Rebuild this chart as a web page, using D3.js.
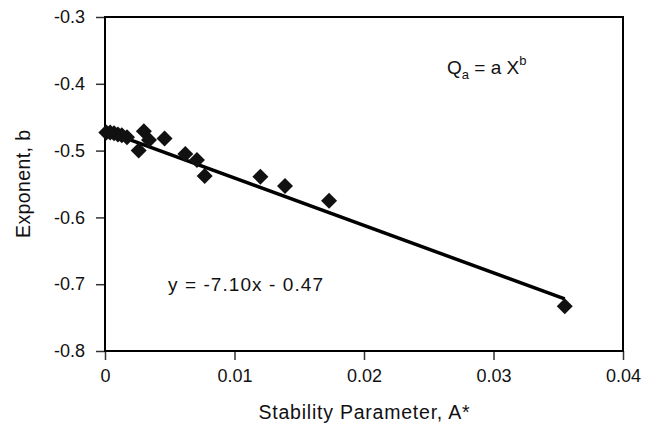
<!DOCTYPE html>
<html>
<head>
<meta charset="utf-8">
<script src="https://cdn.jsdelivr.net/npm/d3@7"></script>
<style>
  body { margin: 0; background: #fff; }
  svg text { font-family: "Liberation Sans", Arial, Helvetica, sans-serif; fill: #111; }
</style>
</head>
<body>
<div id="chart"></div>
<script>
// data
const stability = [0.0001, 0.0004, 0.0007, 0.0010, 0.0013, 0.0017, 0.0026, 0.0030, 0.0034,
                   0.0046, 0.0062, 0.0071, 0.0077, 0.0120, 0.0139, 0.0173, 0.0355];
const exponent  = [-0.473, -0.473, -0.474, -0.476, -0.477, -0.480, -0.500, -0.471, -0.484,
                   -0.482, -0.505, -0.514, -0.538, -0.539, -0.553, -0.575, -0.733];
const xTicks = [0, 0.01, 0.02, 0.03, 0.04];
const yTicks = [-0.3, -0.4, -0.5, -0.6, -0.7, -0.8];
const fitSlope = -7.10, fitIntercept = -0.47;

const points = stability.map((x, i) => ({ x, y: exponent[i] }));

const width = 648, height = 425;
const margin = { top: 17, right: 25, bottom: 74, left: 105 };
const w = width - margin.left - margin.right;
const h = height - margin.top - margin.bottom;

const svg = d3.select("#chart")
    .append("svg")
    .attr("width", width)
    .attr("height", height);

const g = svg.append("g")
    .attr("transform", `translate(${margin.left}, ${margin.top})`);

const x = d3.scaleLinear().domain([0, 0.04]).range([0, w]);
const y = d3.scaleLinear().domain([-0.8, -0.3]).range([h, 0]);

// Axes (plain hyphen minus, like the original)
const xAxis = g.append("g")
    .attr("transform", `translate(0, ${h})`)
    .call(d3.axisBottom(x).tickValues(xTicks).tickSize(9).tickPadding(9)
        .tickFormat(d => d === 0 ? "0" : d.toFixed(2)));

const yAxis = g.append("g")
    .call(d3.axisLeft(y).tickValues(yTicks).tickSize(9).tickPadding(11)
        .tickFormat(d => d.toFixed(1)));

[xAxis, yAxis].forEach(a => {
    a.select(".domain").remove();
    a.selectAll("line").attr("stroke", "#333").attr("stroke-width", 1.5);
    a.selectAll("text").attr("font-size", 18).attr("fill", "#111");
});

// plot frame
g.append("rect")
    .attr("x", 0).attr("y", 0)
    .attr("width", w).attr("height", h)
    .attr("fill", "none")
    .attr("stroke", "#000")
    .attr("stroke-width", 2);

// Labels axes
svg.append("text")
    .attr("x", margin.left + w / 2)
    .attr("y", 419)
    .attr("text-anchor", "middle")
    .attr("font-size", 19.5)
    .attr("textLength", 211)
    .text("Stability Parameter, A*");

svg.append("text")
    .attr("transform", `translate(30, ${margin.top + h / 2}) rotate(-90)`)
    .attr("text-anchor", "middle")
    .attr("font-size", 19.5)
    .attr("textLength", 108)
    .text("Exponent, b");

// trend line
const xMax = d3.max(stability);
g.append("line")
    .attr("x1", x(0))
    .attr("y1", y(fitIntercept))
    .attr("x2", x(xMax))
    .attr("y2", y(fitSlope * xMax + fitIntercept))
    .attr("stroke", "#000")
    .attr("stroke-width", 3.5);

// markers
g.selectAll("path.pt")
    .data(points)
    .enter()
    .append("path")
    .attr("class", "pt")
    .attr("d", "M0,-8L8,0L0,8L-8,0Z")
    .attr("transform", d => `translate(${x(d.x)}, ${y(d.y)})`)
    .attr("fill", "#111");

// annotations
svg.append("text")
    .attr("x", 168)
    .attr("y", 291)
    .attr("font-size", 19)
    .attr("textLength", 155)
    .text("y = -7.10x - 0.47");

const q = svg.append("text")
    .attr("x", 447)
    .attr("y", 74)
    .attr("font-size", 19);
q.append("tspan").text("Q");
q.append("tspan").attr("font-size", 13).attr("dy", 5).text("a");
q.append("tspan").attr("dy", -5).text(" = a X");
q.append("tspan").attr("font-size", 13).attr("dy", -9).text("b");
</script>
</body>
</html>
